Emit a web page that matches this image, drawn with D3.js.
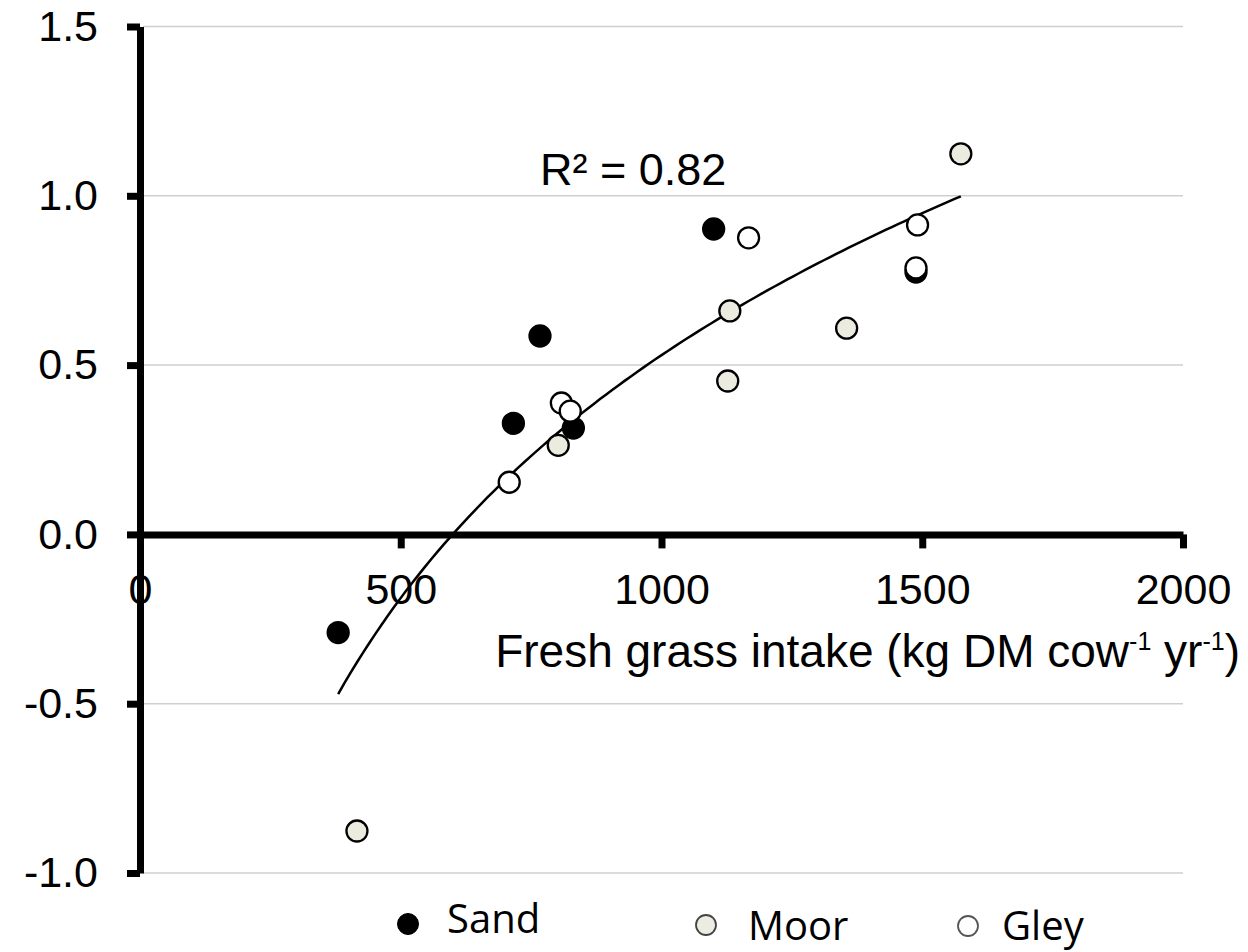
<!DOCTYPE html>
<html>
<head>
<meta charset="utf-8">
<script src="https://cdn.jsdelivr.net/npm/d3@7"></script>
<style>
  html, body { margin: 0; padding: 0; background: #fff; }
  svg { display: block; }
</style>
</head>
<body>
<svg id="chart" width="1248" height="952"></svg>
<script>
// ---- data ----
const soilTypes = ["Sand", "Moor", "Gley"];
const sandX = [380, 716, 767, 831, 1100, 1488];
const sandY = [-0.29, 0.328, 0.586, 0.314, 0.902, 0.775];
const moorX = [416, 802, 1131, 1127, 1355, 1574];
const moorY = [-0.876, 0.263, 0.66, 0.453, 0.609, 1.124];
const gleyX = [708, 808, 825, 1167, 1491, 1488];
const gleyY = [0.154, 0.388, 0.364, 0.876, 0.914, 0.787];
const xTicks = [0, 500, 1000, 1500, 2000];
const xTickLabels = ["0", "500", "1000", "1500", "2000"];
const yTicks = [-1.0, -0.5, 0.0, 0.5, 1.0, 1.5];
const yTickLabels = ["-1.0", "-0.5", "0.0", "0.5", "1.0", "1.5"];
const r2Label = "R\u00B2 = 0.82";

const svg = d3.select("#chart");
const x = d3.scaleLinear().domain([0, 2000]).range([140, 1183]);
const y = d3.scaleLinear().domain([-1, 1.5]).range([873, 26.5]);

const series = [
  { name: soilTypes[0], xs: sandX, ys: sandY, fill: "#000000" },
  { name: soilTypes[1], xs: moorX, ys: moorY, fill: "#ecebe0" },
  { name: soilTypes[2], xs: gleyX, ys: gleyY, fill: "#ffffff" }
];

// gridlines
svg.append("g").selectAll("line")
  .data(yTicks.filter(d => d !== 0))
  .join("line")
  .attr("x1", x(0) + 3).attr("x2", x(2000))
  .attr("y1", d => y(d)).attr("y2", d => y(d))
  .attr("stroke", "#cfcfcf").attr("stroke-width", 1.5);

// x axis at y = 0
const xAxis = d3.axisBottom(x)
  .tickValues(xTicks)
  .tickFormat((d, i) => xTickLabels[i])
  .tickSize(14).tickSizeOuter(0).tickPadding(25);
const gx = svg.append("g").attr("transform", `translate(0,${y(0)})`).call(xAxis);
gx.select(".domain").attr("stroke", "#000").attr("stroke-width", 7);
gx.selectAll(".tick line").attr("stroke", "#000").attr("stroke-width", 7);
gx.selectAll(".tick text")
  .attr("font-family", "'Liberation Sans', Arial, sans-serif")
  .attr("font-size", 43).attr("fill", "#000");

// y axis
const yAxis = d3.axisLeft(y)
  .tickValues(yTicks)
  .tickFormat((d, i) => yTickLabels[i])
  .tickSize(13).tickSizeOuter(0).tickPadding(29);
const gy = svg.append("g").attr("transform", `translate(${x(0)},0)`).call(yAxis);
gy.select(".domain").attr("stroke", "#000").attr("stroke-width", 7);
gy.selectAll(".tick line").attr("stroke", "#000").attr("stroke-width", 7);
gy.selectAll(".tick text")
  .attr("font-family", "'Liberation Sans', Arial, sans-serif")
  .attr("font-size", 43).attr("fill", "#000");

// logarithmic trendline fitted to all points
const allX = [...sandX, ...moorX, ...gleyX];
const allY = [...sandY, ...moorY, ...gleyY];
const L = allX.map(Math.log);
const mL = d3.mean(L), mY = d3.mean(allY);
const slope = d3.sum(L.map((l, i) => (l - mL) * (allY[i] - mY))) / d3.sum(L.map(l => (l - mL) ** 2));
const intercept = mY - slope * mL;
const [xmin, xmax] = d3.extent(allX);
const trendPts = d3.range(0, 101).map(i => {
  const xv = xmin + (xmax - xmin) * i / 100;
  return [xv, slope * Math.log(xv) + intercept];
});
svg.append("path")
  .attr("d", d3.line().x(d => x(d[0])).y(d => y(d[1]))(trendPts))
  .attr("fill", "none").attr("stroke", "#000").attr("stroke-width", 2.5);

// points
series.forEach(s => {
  svg.append("g").selectAll("circle")
    .data(s.xs.map((xv, i) => [xv, s.ys[i]]))
    .join("circle")
    .attr("cx", d => x(d[0])).attr("cy", d => y(d[1]))
    .attr("r", 10.5)
    .attr("fill", s.fill).attr("stroke", "#000").attr("stroke-width", 2.3);
});

// R² label
svg.append("text")
  .attr("x", 540).attr("y", 185)
  .attr("font-family", "'Liberation Sans', Arial, sans-serif")
  .attr("font-size", 45).attr("fill", "#000")
  .text(r2Label);

// x axis title
const title = svg.append("text")
  .attr("x", 1240).attr("y", 667)
  .attr("text-anchor", "end")
  .attr("font-family", "'Liberation Sans', Arial, sans-serif")
  .attr("font-size", 46).attr("fill", "#000");
title.append("tspan").text("Fresh grass intake (kg DM cow");
title.append("tspan").attr("font-size", 25).attr("dy", -17).text("-1");
title.append("tspan").attr("dy", 17).text(" yr");
title.append("tspan").attr("font-size", 25).attr("dy", -17).text("-1");
title.append("tspan").attr("dy", 17).text(")");

// legend
const legendItems = [
  { name: soilTypes[0], cx: 408, cy: 924, r: 10.5, fill: "#000", stroke: "#000", sw: 1, tx: 447, ty: 933 },
  { name: soilTypes[1], cx: 706, cy: 925, r: 10, fill: "#edece2", stroke: "#444", sw: 1.8, tx: 748, ty: 940 },
  { name: soilTypes[2], cx: 968, cy: 926, r: 10, fill: "#fff", stroke: "#555", sw: 1.8, tx: 1002, ty: 940 }
];
const lg = svg.append("g");
lg.selectAll("circle").data(legendItems).join("circle")
  .attr("cx", d => d.cx).attr("cy", d => d.cy).attr("r", d => d.r)
  .attr("fill", d => d.fill).attr("stroke", d => d.stroke).attr("stroke-width", d => d.sw);
lg.selectAll("text").data(legendItems).join("text")
  .attr("x", d => d.tx).attr("y", d => d.ty)
  .attr("font-family", "'Open Sans', 'Noto Sans', sans-serif")
  .attr("font-size", 40).attr("fill", "#000")
  .text(d => d.name);
</script>
</body>
</html>
